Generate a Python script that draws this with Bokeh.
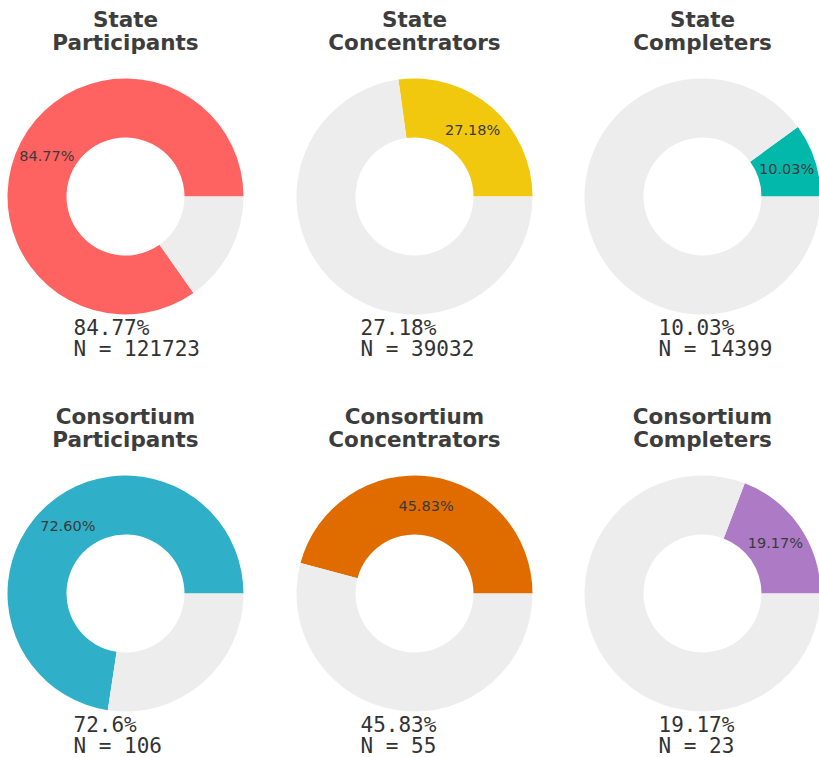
import math
from bokeh.plotting import figure
from bokeh.models import Range1d
from bokeh.core.properties import value
from bokeh.embed import file_html
from bokeh.resources import INLINE

# ---- data ----
title_top = ["State", "State", "State", "Consortium", "Consortium", "Consortium"]
title_bottom = ["Participants", "Concentrators", "Completers",
                "Participants", "Concentrators", "Completers"]
pct = [84.77, 27.18, 10.03, 72.60, 45.83, 19.17]
pct_inner_label = ["84.77%", "27.18%", "10.03%", "72.60%", "45.83%", "19.17%"]
pct_caption = ["84.77%", "27.18%", "10.03%", "72.6%", "45.83%", "19.17%"]
n_values = [121723, 39032, 14399, 106, 55, 23]
colors = ["#FF6361", "#F2C80F", "#01B8AA", "#30B0C8", "#E06C00", "#AD7BC6"]
rest_color = "#EDEDED"

# ---- layout ----
W, H = 819, 757
col_x = [125, 414, 702]
row_y = [H - 196, H - 593]
R_OUT, R_IN = 118, 59
R_LAB = (R_OUT + R_IN) / 2
cap_left = [-52, -54, -44]

p = figure(width=W, height=H, output_backend="svg", toolbar_location=None,
           x_range=Range1d(0, W), y_range=Range1d(0, H),
           x_axis_location=None, y_axis_location=None, min_border=0)
p.grid.visible = False
p.outline_line_color = None
p.background_fill_color = "white"
p.border_fill_color = "white"

cx, cy = [], []
for i in range(6):
    cx.append(col_x[i % 3])
    cy.append(row_y[i // 3])

frac = [v / 100.0 for v in pct]
ends = [f * 2 * math.pi for f in frac]

# colored wedges
p.annular_wedge(x=cx, y=cy, inner_radius=R_IN, outer_radius=R_OUT,
                start_angle=[0] * 6, end_angle=ends, direction="anticlock",
                fill_color=colors, line_color=None)
# remainder
p.annular_wedge(x=cx, y=cy, inner_radius=R_IN, outer_radius=R_OUT,
                start_angle=ends, end_angle=[2 * math.pi] * 6, direction="anticlock",
                fill_color=rest_color, line_color=None)

# inner labels
mid = [e / 2 for e in ends]
lx = [cx[i] + R_LAB * math.cos(mid[i]) for i in range(6)]
ly = [cy[i] + R_LAB * math.sin(mid[i]) for i in range(6)]
p.text(x=lx, y=ly, text=pct_inner_label, text_align="center", text_baseline="middle",
       text_font=value("DejaVu Sans"), text_font_size="14.5px", text_color="#3a3a3a")

# titles
tfont = value("DejaVu Sans")
p.text(x=cx, y=[y + 177 for y in cy], text=title_top, text_align="center",
       text_baseline="middle", text_font=tfont, text_font_size="21.5px",
       text_font_style="bold", text_color="#3d3d3d")
p.text(x=cx, y=[y + 154 for y in cy], text=title_bottom, text_align="center",
       text_baseline="middle", text_font=tfont, text_font_size="21.5px",
       text_font_style="bold", text_color="#3d3d3d")

# captions
mfont = value("DejaVu Sans Mono")
capx = [cx[i] + cap_left[i % 3] for i in range(6)]
p.text(x=capx, y=[y - 131 for y in cy], text=pct_caption, text_align="left",
       text_baseline="middle", text_font=mfont, text_font_size="21px", text_color="#333333")
p.text(x=capx, y=[y - 152 for y in cy], text=["N = %d" % n for n in n_values],
       text_align="left", text_baseline="middle", text_font=mfont,
       text_font_size="21px", text_color="#333333")

open("out.html", "w").write(file_html(p, INLINE))
